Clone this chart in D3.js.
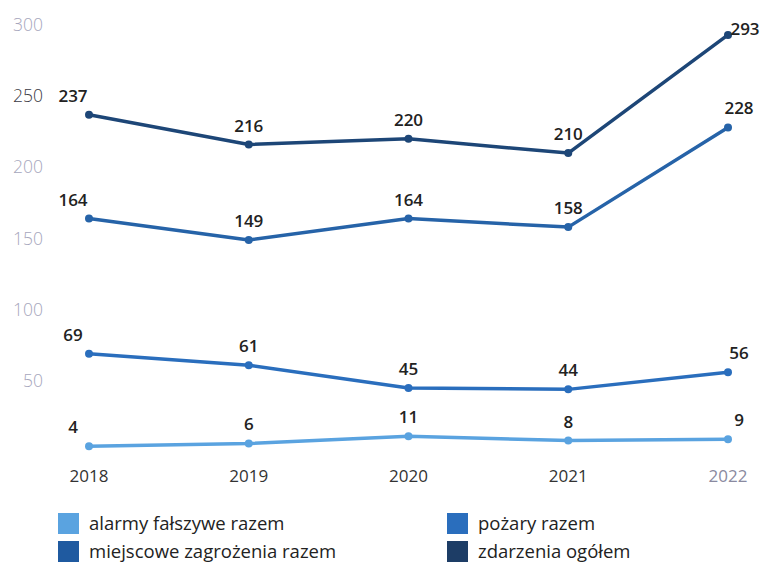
<!DOCTYPE html>
<html><head><meta charset="utf-8">
<script src="https://cdn.jsdelivr.net/npm/d3@7"></script>
<style>body{margin:0;background:#fff;} svg{display:block;font-family:"Open Sans","Noto Sans",sans-serif;}</style>
</head><body><svg id="c" width="763" height="568"></svg>
<script>
const years = ["2018","2019","2020","2021","2022"];
const alarmy = [4, 6, 11, 8, 9];
const pozary = [69, 61, 45, 44, 56];
const miejscowe = [164, 149, 164, 158, 228];
const zdarzenia = [237, 216, 220, 210, 293];
const yTicks = [50, 100, 150, 200, 250, 300];
const seriesNames = ["alarmy fałszywe razem", "pożary razem", "miejscowe zagrożenia razem", "zdarzenia ogółem"];
const seriesColors = ["#5aa3e0", "#2a6ebd", "#2663a8", "#1d4677"];
const legendColors = ["#5aa3e0", "#2a6ebd", "#1f5aa0", "#1d3d66"];

const svg = d3.select("#c");
const x = d3.scalePoint().domain(years).range([89, 728]);
const y = d3.scaleLinear().domain([0, 300]).range([452, 25]);

// y tick labels
svg.append("g").selectAll("text").data(yTicks).join("text")
  .attr("x", 43).attr("y", d => y(d) + 6).attr("text-anchor", "end")
  .attr("font-size", 17.5).attr("font-weight", 300)
  .attr("fill", d => d === 250 ? "#3a3a44" : "#a6a6bc").text(d => d);

// x tick labels
svg.append("g").selectAll("text").data(years).join("text")
  .attr("x", d => x(d)).attr("y", 482).attr("text-anchor", "middle")
  .attr("font-size", 17).attr("fill", (d,i) => i === 4 ? "#8a8aa0" : "#333").text(d => d);

const series = [alarmy, pozary, miejscowe, zdarzenia];
const line = d3.line().x((d,i) => x(years[i])).y(d => y(d));
series.forEach((s, k) => {
  const g = svg.append("g");
  g.append("path").datum(s).attr("d", line).attr("fill", "none")
    .attr("stroke", seriesColors[k]).attr("stroke-width", 3.5).attr("stroke-linejoin", "round");
  g.selectAll("circle").data(s).join("circle")
    .attr("cx", (d,i) => x(years[i])).attr("cy", d => y(d)).attr("r", 4)
    .attr("fill", seriesColors[k]);
  g.selectAll("text").data(s).join("text")
    .attr("x", (d,i) => x(years[i]) + (i === 0 ? -16 : i === 4 ? (y(d) - 14 < 30 ? 17 : 11) : 0))
    .attr("y", (d,i) => (i === 4 && y(d) - 14 < 30) ? y(d) : y(d) - 13)
    .attr("text-anchor", "middle").attr("font-size", 17).attr("font-weight", 600)
    .attr("fill", "#222").text(d => d);
});

// legend
const lg = svg.append("g");
const lpos = [[58, 513], [447, 513], [58, 541], [447, 541]];
seriesNames.forEach((n, k) => {
  lg.append("rect").attr("x", lpos[k][0]).attr("y", lpos[k][1]).attr("width", 21).attr("height", 21).attr("fill", legendColors[k]);
  lg.append("text").attr("x", lpos[k][0] + 31).attr("y", lpos[k][1] + 17).attr("font-size", 18.5).attr("fill", "#222").text(n);
});
</script></body></html>
